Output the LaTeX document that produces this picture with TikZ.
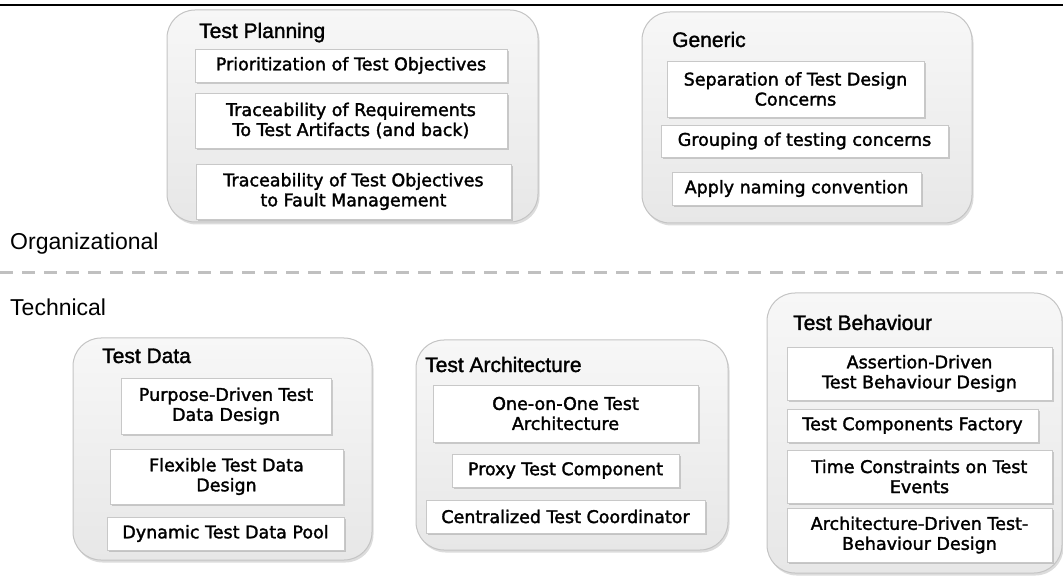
\documentclass[tikz,border=0pt]{standalone}
\usepackage{fontspec}
\newfontfamily\itemfont{DejaVu Sans}[RawFeature={embolden=1.8}]
\newfontfamily\headfont{Liberation Sans}[RawFeature={embolden=1.5}]
\newfontfamily\sidefont{Liberation Sans}
\usetikzlibrary{shadows,fit}
\definecolor{panelline}{HTML}{C4C4C4}
\definecolor{paneltop}{HTML}{F7F7F7}
\definecolor{panelbot}{HTML}{E7E7E7}
\definecolor{itemline}{HTML}{C8C8C8}
\definecolor{splitgray}{HTML}{C0C0C0}
\begin{document}
\begin{tikzpicture}[x=1pt,y=-1pt,
  panel/.style={draw=panelline, line width=1pt, rounded corners=28pt,
    top color=paneltop, bottom color=panelbot, inner sep=0pt,
    drop shadow={shadow xshift=1.5pt, shadow yshift=-2.5pt, opacity=0.28}},
  item/.style={draw=itemline, fill=white, line width=0.8pt, align=center,
    inner sep=2pt, font=\itemfont\fontsize{17.5}{20}\selectfont,
    drop shadow={shadow xshift=1.5pt, shadow yshift=-1.8pt, opacity=0.35}},
  head/.style={anchor=base west, inner sep=0pt,
    font=\headfont\fontsize{21}{24}\selectfont},
  side/.style={anchor=base west, inner sep=0pt,
    font=\sidefont\fontsize{23}{26}\selectfont},
]
\useasboundingbox (0,0) rectangle (1063,577);

% top rule and dashed divider
\coordinate (rule west) at (0,5);
\coordinate (rule east) at (1063,5);
\draw[line width=2.5pt] (rule west) -- (rule east);
\coordinate (split west) at (0,273);
\coordinate (split east) at (1063,273);
\draw[splitgray, line width=3pt, dash pattern=on 13pt off 9pt] (split west) -- (split east);

\node[side] (org) at (10,250) {Organizational};
\node[side] (tech) at (10,316) {Technical};

% ---- Test Planning ----
\node[panel, fit={(167,10) (538,222)}] (tp) {};
\node[head] (tpH) at (199,38) {Test Planning};
\node[item, minimum width=312pt, minimum height=33pt] (tp1) at (351,65.5) {Prioritization of Test Objectives};
\node[item, minimum width=312pt, minimum height=55pt] (tp2) at (351,120.5) {Traceability of Requirements\\To Test Artifacts (and back)};
\node[item, minimum width=315pt, minimum height=55pt] (tp3) at (353.5,191.5) {Traceability of Test Objectives\\to Fault Management};

% ---- Generic ----
\node[panel, fit={(642,12) (972,223)}] (gen) {};
\node[head] (genH) at (672,47) {Generic};
\node[item, minimum width=257pt, minimum height=56pt] (gen1) at (795.5,89) {Separation of Test Design\\Concerns};
\node[item, minimum width=287pt, minimum height=32pt] (gen2) at (804.5,141) {Grouping of testing concerns};
\node[item, minimum width=249pt, minimum height=33pt] (gen3) at (796.5,188.5) {Apply naming convention};

% ---- Test Data ----
\node[panel, fit={(73,338) (372,560)}] (td) {};
\node[head] (tdH) at (102,363) {Test Data};
\node[item, minimum width=210pt, minimum height=56pt] (td1) at (226,406) {Purpose-Driven Test\\Data Design};
\node[item, minimum width=233pt, minimum height=55pt] (td2) at (226.5,476.5) {Flexible Test Data\\Design};
\node[item, minimum width=237pt, minimum height=33pt] (td3) at (225.5,533.5) {Dynamic Test Data Pool};

% ---- Test Architecture ----
\node[panel, fit={(416,340) (728,550)}] (ta) {};
\node[head] (taH) at (425,372) {Test Architecture};
\node[item, minimum width=265pt, minimum height=57pt] (ta1) at (565.5,413.5) {One-on-One Test\\Architecture};
\node[item, minimum width=227pt, minimum height=33pt] (ta2) at (565.5,470.5) {Proxy Test Component};
\node[item, minimum width=279pt, minimum height=33pt] (ta3) at (565.5,516.5) {Centralized Test Coordinator};

% ---- Test Behaviour ----
\node[panel, fit={(767,293) (1062,573)}] (tb) {};
\node[head] (tbH) at (793,330) {Test Behaviour};
\node[item, minimum width=265pt, minimum height=53pt] (tb1) at (919.5,373.5) {Assertion-Driven\\Test Behaviour Design};
\node[item, minimum width=251pt, minimum height=33pt] (tb2) at (912.5,425.5) {Test Components Factory};
\node[item, minimum width=265pt, minimum height=53pt] (tb3) at (919.5,476.5) {Time Constraints on Test\\Events};
\node[item, minimum width=265pt, minimum height=54pt] (tb4) at (919.5,535) {Architecture-Driven Test-\\Behaviour Design};
\end{tikzpicture}
\end{document}
